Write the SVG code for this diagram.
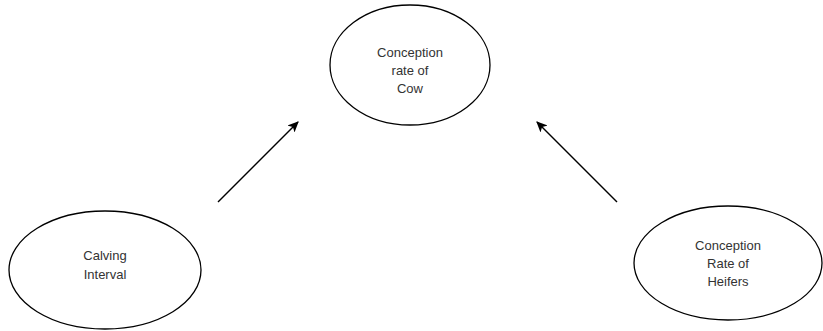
<svg xmlns="http://www.w3.org/2000/svg" width="823" height="331" viewBox="0 0 823 331">
<style>
.node ellipse{fill:#fff;stroke:#000;stroke-width:1.3}
.node text{font-family:"Liberation Sans",Arial,sans-serif;font-size:13px;fill:#333;text-anchor:middle}
.edge{stroke:#000;stroke-width:1.5;fill:none;marker-end:url(#ah)}
</style>
<defs>
<marker id="ah" viewBox="0 0 10 10" refX="9" refY="5" markerWidth="11" markerHeight="11" markerUnits="userSpaceOnUse" orient="auto">
<path d="M0,0.5 L10,5 L0,9.5 L2.5,5 Z" fill="#000"/>
</marker>
</defs>
<rect width="823" height="331" fill="#fff"/>
<g id="conception-cow" class="node">
<ellipse cx="410" cy="65" rx="80" ry="60"/>
<text x="410" y="57">Conception</text>
<text x="410" y="75">rate of</text>
<text x="410" y="93">Cow</text>
</g>
<g id="calving-interval" class="node">
<ellipse cx="105" cy="270" rx="96" ry="59"/>
<text x="105" y="260">Calving</text>
<text x="105" y="279">Interval</text>
</g>
<g id="conception-heifers" class="node">
<ellipse cx="728" cy="263" rx="94" ry="57"/>
<text x="728" y="250">Conception</text>
<text x="728" y="268">Rate of</text>
<text x="728" y="286">Heifers</text>
</g>
<g id="connectors">
<line class="edge" x1="218" y1="202" x2="298" y2="122"/>
<line class="edge" x1="617" y1="202" x2="537" y2="122"/>
</g>
</svg>
